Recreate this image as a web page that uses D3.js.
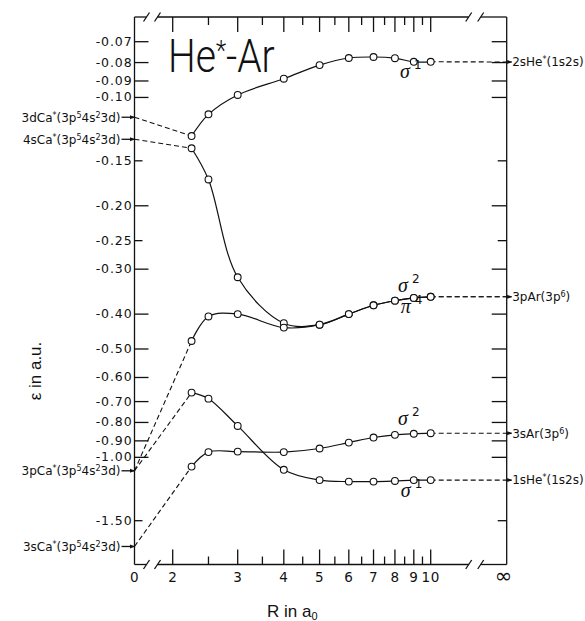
<!DOCTYPE html>
<html>
<head>
<meta charset="utf-8">
<title>He*-Ar</title>
<style>
body { margin: 0; background: white; }
svg { display: block; }
text { fill: #111; }
.frame line, .tick { stroke: #111; stroke-width: 1.3px; }
.ylab { font-family: "DejaVu Sans", sans-serif; font-size: 12.5px; letter-spacing: 0.9px; }
.xlab { font-family: "DejaVu Sans", sans-serif; font-size: 13.5px; letter-spacing: 0.5px; }
.level { font-family: "DejaVu Sans", sans-serif; font-size: 12px; }
.title { font-family: Roboto, "Liberation Sans", sans-serif; font-weight: 300; font-size: 46px; }
.axis-title { font-family: "Liberation Sans", sans-serif; font-size: 17px; }
.curve { fill: none; stroke: #111; stroke-width: 1.2px; }
.dash { fill: none; stroke: #111; stroke-width: 1.1px; stroke-dasharray: 5,3; }
.pt { fill: white; stroke: #111; stroke-width: 1.1px; }
.anno { font-family: "Liberation Serif", serif; font-style: italic; font-size: 20px; }
</style>
</head>
<body>
<svg id="chart" width="585" height="621"></svg>
<script src="https://cdn.jsdelivr.net/npm/d3@7"></script>
<script>

// internuclear distance (a0) of the computed points
var R = [2.25, 2.5, 3, 4, 5, 6, 7, 8, 9, 10];

// orbital energies (a.u.)
var eps2sHe  = [-0.128, -0.1114, -0.0984, -0.0887, -0.0813, -0.0777, -0.0772, -0.0778, -0.0796, -0.0796];
var eps3pSig = [-0.1384, -0.169, -0.316, -0.424, -0.428, -0.400, -0.378, -0.367, -0.3606, -0.358];
var eps3pPi  = [-0.475, -0.406, -0.400, -0.436, -0.428, -0.400, -0.378, -0.367, -0.3606, -0.358];
var eps1sHe  = [-0.661, -0.687, -0.818, -1.083, -1.157, -1.168, -1.168, -1.163, -1.157, -1.157];
var eps3sAr  = [-1.061, -0.967, -0.964, -0.967, -0.945, -0.910, -0.881, -0.866, -0.860, -0.857];

// united atom limit (R = 0) and separated atom limit (R = infinity)
var leftNames = ["3dCa", "4sCa", "3pCa", "3sCa"];
var leftEps = [-0.1135, -0.1307, -1.09, -1.769];
var rightNames = ["2sHe", "3pAr", "3sAr", "1sHe"];
var rightEps = [-0.0797, -0.358, -0.857, -1.157];

// which limits each curve joins
var curveEps = [eps2sHe, eps3pSig, eps3pPi, eps1sHe, eps3sAr];
var curveFrom = [0, 1, 2, 2, 3];
var curveTo = [0, 1, 1, 3, 2];

// axis ticks
var xMajor = [2, 3, 4, 5, 6, 7, 8, 9, 10];
var xMinor = [2.5, 3.5, 4.5, 5.5, 6.5, 7.5, 8.5, 9.5];
var xTickLabels = ["2", "3", "4", "5", "6", "7", "8", "9", "10"];
var yTicks = [-0.07, -0.08, -0.09, -0.10, -0.15, -0.20, -0.25, -0.30, -0.40, -0.50, -0.60, -0.70, -0.80, -0.90, -1.00, -1.50];
var yTickLabels = ["-0.07", "-0.08", "-0.09", "-0.10", "-0.15", "-0.20", "-0.25", "-0.30", "-0.40", "-0.50", "-0.60", "-0.70", "-0.80", "-0.90", "-1.00", "-1.50"];
var yShort = [-0.15, -0.25, -1.50];

// orbital symmetry labels
var annoSym = ["σ", "σ", "π", "σ", "σ"];
var annoSup = ["1", "2", "4", "2", "1"];
var annoR = [8.26, 8.16, 8.3, 8.16, 8.3];
var annoEps = [-0.0883, -0.3466, -0.3976, -0.812, -1.285];

var X0 = 134.5, X1 = 506.7, Y0 = 17, Y1 = 564.5;

var x = d3.scaleLog().domain([2, 10]).range([172.7, 430.7]);
var y = d3.scaleLog().domain([-0.07, -1.5]).range([41.7, 520.7]);

var svg = d3.select("#chart");

svg.append("defs").append("marker")
    .attr("id", "arrow")
    .attr("viewBox", "0 0 10 10")
    .attr("refX", 9).attr("refY", 5)
    .attr("markerWidth", 5).attr("markerHeight", 5)
    .attr("markerUnits", "userSpaceOnUse")
    .attr("orient", "auto")
  .append("path")
    .attr("d", "M0,1L10,5L0,9z")
    .attr("fill", "#111");

// frame with broken top and bottom lines
var frame = svg.append("g").attr("class", "frame");
var cuts = [X0, X0 + 12, X0 + 23, X1 - 38, X1 - 26, X1];
[Y0, Y1].forEach(function(yy) {
  [[cuts[0], cuts[1]], [cuts[2], cuts[3]], [cuts[4], cuts[5]]].forEach(function(s) {
    frame.append("line").attr("x1", s[0]).attr("x2", s[1]).attr("y1", yy).attr("y2", yy);
  });
  [1, 2, 3, 4].forEach(function(i) {
    frame.append("line")
        .attr("x1", cuts[i] - 3).attr("y1", yy + 4.5)
        .attr("x2", cuts[i] + 3).attr("y2", yy - 4.5);
  });
});
frame.append("line").attr("x1", X0).attr("x2", X0).attr("y1", Y0).attr("y2", Y1);
frame.append("line").attr("x1", X1).attr("x2", X1).attr("y1", Y0).attr("y2", Y1);

// x ticks, inward on top and bottom
var ticks = svg.append("g");
xMajor.concat(xMinor).forEach(function(r) {
  var len = xMajor.indexOf(r) >= 0 ? 15 : 8;
  ticks.append("line").attr("class", "tick")
      .attr("x1", x(r)).attr("x2", x(r)).attr("y1", Y1).attr("y2", Y1 - len);
  ticks.append("line").attr("class", "tick")
      .attr("x1", x(r)).attr("x2", x(r)).attr("y1", Y0).attr("y2", Y0 + len);
});
xMajor.forEach(function(r, i) {
  svg.append("text").attr("class", "xlab")
      .attr("x", x(r)).attr("y", Y1 + 17.5)
      .attr("text-anchor", "middle")
      .text(xTickLabels[i]);
});
svg.append("text").attr("class", "xlab")
    .attr("x", X0).attr("y", Y1 + 17.5).attr("text-anchor", "middle").text("0");
svg.append("text").attr("class", "xlab")
    .attr("x", X1 - 3).attr("y", Y1 + 18).attr("text-anchor", "middle")
    .style("font-size", "21px").text("∞");

// y ticks, inward on left and right
yTicks.forEach(function(v, i) {
  var len = yShort.indexOf(v) >= 0 ? 8 : 14;
  ticks.append("line").attr("class", "tick")
      .attr("x1", X0).attr("x2", X0 + len).attr("y1", y(v)).attr("y2", y(v));
  ticks.append("line").attr("class", "tick")
      .attr("x1", X1).attr("x2", X1 - len - 1).attr("y1", y(v)).attr("y2", y(v));
  svg.append("text").attr("class", "ylab")
      .attr("x", X0 - 2).attr("y", y(v) + 4)
      .attr("text-anchor", "end")
      .text(yTickLabels[i]);
});

// curves
var line = d3.line().curve(d3.curveCatmullRom.alpha(0.5));
var straight = d3.line();

curveEps.forEach(function(eps, k) {
  var pts = R.map(function(r, i) { return [x(r), y(eps[i])]; });
  svg.append("path").attr("class", "dash")
      .attr("d", straight([[X0, y(leftEps[curveFrom[k]])], pts[0]]));
  svg.append("path").attr("class", "dash")
      .attr("d", straight([pts[pts.length - 1], [X1, y(rightEps[curveTo[k]])]]));
  svg.append("path").attr("class", "curve").attr("d", line(pts));
});
curveEps.forEach(function(eps) {
  svg.selectAll(null).data(R).enter().append("circle")
      .attr("class", "pt")
      .attr("cx", function(r) { return x(r); })
      .attr("cy", function(r, i) { return y(eps[i]); })
      .attr("r", 3.4);
});

// level labels: sup raises, next normal part lowers back
function levelText(g, xx, yy, anchor, parts) {
  var t = g.append("text").attr("class", "level")
      .attr("x", xx).attr("y", yy).attr("text-anchor", anchor);
  var up = false;
  parts.forEach(function(p) {
    var s = t.append("tspan").text(p[0]);
    if (p[1]) { s.attr("dy", up ? 0 : -4).style("font-size", "8px"); up = true; }
    else if (up) { s.attr("dy", 4); up = false; }
  });
  return t;
}

leftNames.forEach(function(n, i) {
  var yy = y(leftEps[i]);
  levelText(svg, X0 - 14, yy + 4.5, "end",
    [[n, false], ["*", true], ["(3p", false], ["5", true], ["4s", false], ["2", true], ["3d)", false]]);
  svg.append("line").attr("class", "tick")
      .attr("x1", X0 - 13).attr("x2", X0).attr("y1", yy).attr("y2", yy)
      .attr("stroke-width", 1).attr("marker-end", "url(#arrow)");
});

var rightParts = [
  [["2sHe", false], ["*", true], ["(1s2s)", false]],
  [["3pAr(3p", false], ["6", true], [")", false]],
  [["3sAr(3p", false], ["6", true], [")", false]],
  [["1sHe", false], ["*", true], ["(1s2s)", false]]
];
rightNames.forEach(function(n, i) {
  var yy = y(rightEps[i]);
  svg.append("line").attr("class", "tick")
      .attr("x1", X1).attr("x2", X1 + 5).attr("y1", yy).attr("y2", yy)
      .attr("stroke-width", 1).attr("marker-end", "url(#arrow)");
  levelText(svg, X1 + 5.5, yy + 4.3, "start", rightParts[i]);
});

// symmetry labels
annoSym.forEach(function(s, i) {
  var t = svg.append("text").attr("class", "anno")
      .attr("x", x(annoR[i])).attr("y", y(annoEps[i]))
      .attr("text-anchor", "start");
  t.append("tspan").text(s);
  t.append("tspan").attr("dx", 4).attr("dy", -9)
      .style("font-size", "12px").style("font-style", "normal")
      .style("font-family", "DejaVu Sans").text(annoSup[i]);
});

// title
var title = svg.append("text").attr("class", "title")
    .attr("transform", "translate(168,71.7) scale(0.85,1)");
title.append("tspan").text("He");
title.append("tspan").attr("dy", -12).style("font-size", "28px").text("*");
title.append("tspan").attr("dy", 12).text("-Ar");

// axis titles
svg.append("text").attr("class", "axis-title")
    .attr("transform", "translate(41," + 371 + ") rotate(-90)")
    .attr("text-anchor", "middle")
    .text("ε in a.u.");
var xt = svg.append("text").attr("class", "axis-title")
    .attr("x", 267).attr("y", 616.5);
xt.append("tspan").text("R in a");
xt.append("tspan").attr("dy", 3).style("font-size", "11px").text("0");

</script>
</body>
</html>
